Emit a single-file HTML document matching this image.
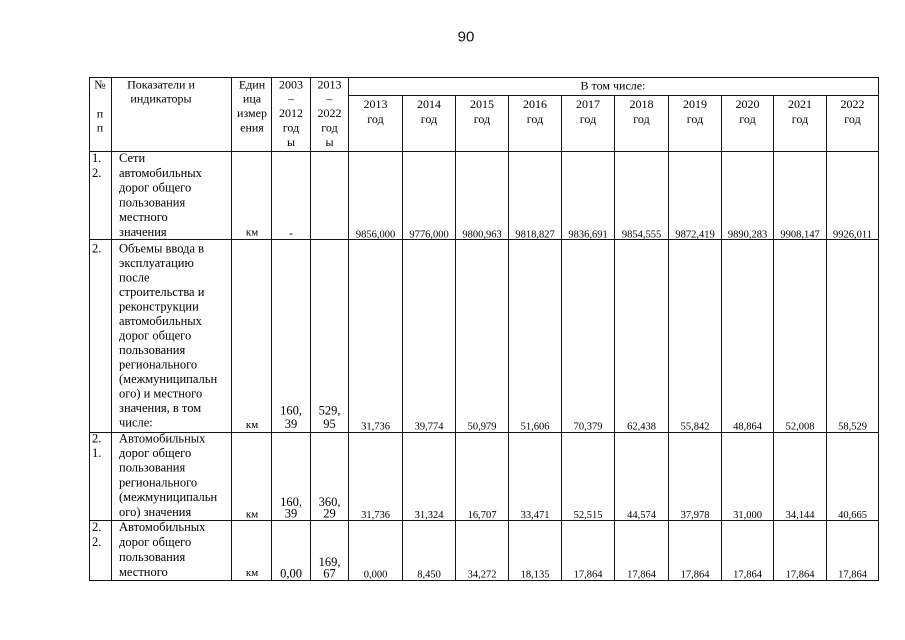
<!DOCTYPE html>
<html>
<head>
<meta charset="utf-8">
<style>
  html, body { margin:0; padding:0; background:#fff; }
  body { width:905px; height:640px; overflow:hidden; }
  svg { display:block; }
  .s { font-family:"Liberation Serif","DejaVu Serif",serif; fill:#000; }
  .h { font-size:12px; }
  .b { font-size:12.5px; }
  .n { font-size:10.5px; }
  .k { font-size:11px; }
  .m { font-size:12.5px; }
  .c { text-anchor:middle; }
</style>
</head>
<body>
<svg width="905" height="640" viewBox="0 0 905 640" xmlns="http://www.w3.org/2000/svg">
  <rect x="0" y="0" width="905" height="640" fill="#fff"/>
  <text x="466" y="41.5" text-anchor="middle" style="font-family:'Liberation Sans','DejaVu Sans',sans-serif;font-size:15px;fill:#111;">90</text>

  <g stroke="#151515" stroke-width="1" fill="none">
    <!-- horizontals -->
    <line x1="89" y1="77.5" x2="879" y2="77.5"/>
    <line x1="348.5" y1="95.5" x2="879" y2="95.5"/>
    <line x1="89" y1="151.5" x2="879" y2="151.5"/>
    <line x1="89" y1="239.5" x2="879" y2="239.5"/>
    <line x1="89" y1="432.5" x2="879" y2="432.5"/>
    <line x1="89" y1="520.5" x2="879" y2="520.5"/>
    <line x1="89" y1="580.5" x2="879" y2="580.5"/>
    <!-- verticals full height -->
    <line x1="89.5" y1="77" x2="89.5" y2="581"/>
    <line x1="111.5" y1="77" x2="111.5" y2="581"/>
    <line x1="231.5" y1="77" x2="231.5" y2="581"/>
    <line x1="271.5" y1="77" x2="271.5" y2="581"/>
    <line x1="310.5" y1="77" x2="310.5" y2="581"/>
    <line x1="348.5" y1="77" x2="348.5" y2="581"/>
    <line x1="878.5" y1="77" x2="878.5" y2="581"/>
    <!-- year column verticals -->
    <line x1="402.5" y1="95" x2="402.5" y2="581"/>
    <line x1="455.5" y1="95" x2="455.5" y2="581"/>
    <line x1="508.5" y1="95" x2="508.5" y2="581"/>
    <line x1="561.5" y1="95" x2="561.5" y2="581"/>
    <line x1="614.5" y1="95" x2="614.5" y2="581"/>
    <line x1="668.5" y1="95" x2="668.5" y2="581"/>
    <line x1="721.5" y1="95" x2="721.5" y2="581"/>
    <line x1="773.5" y1="95" x2="773.5" y2="581"/>
    <line x1="826.5" y1="95" x2="826.5" y2="581"/>
  </g>

  <!-- Header -->
  <g class="s h">
    <text x="100" y="88.5" class="c">№</text>
    <text x="100" y="117.5" class="c">п</text>
    <text x="100" y="131.5" class="c">п</text>

    <text x="161" y="88.5" class="c">Показатели и</text>
    <text x="161" y="102.5" class="c">индикаторы</text>

    <text x="252" y="88.5" class="c">Един</text>
    <text x="252" y="102.5" class="c">ица</text>
    <text x="252" y="117" class="c">измер</text>
    <text x="252" y="131.5" class="c">ения</text>

    <text x="291" y="88.5" class="c">2003</text>
    <text x="291" y="102.5" class="c">–</text>
    <text x="291" y="117" class="c">2012</text>
    <text x="291" y="131.5" class="c">год</text>
    <text x="291" y="146" class="c">ы</text>

    <text x="329.5" y="88.5" class="c">2013</text>
    <text x="329.5" y="102.5" class="c">–</text>
    <text x="329.5" y="117" class="c">2022</text>
    <text x="329.5" y="131.5" class="c">год</text>
    <text x="329.5" y="146" class="c">ы</text>

    <text x="613" y="89.5" class="c">В том числе:</text>

    <text x="375.5" y="108" class="c">2013</text><text x="375.5" y="123" class="c">год</text>
    <text x="429" y="108" class="c">2014</text><text x="429" y="123" class="c">год</text>
    <text x="482" y="108" class="c">2015</text><text x="482" y="123" class="c">год</text>
    <text x="535" y="108" class="c">2016</text><text x="535" y="123" class="c">год</text>
    <text x="588" y="108" class="c">2017</text><text x="588" y="123" class="c">год</text>
    <text x="641.5" y="108" class="c">2018</text><text x="641.5" y="123" class="c">год</text>
    <text x="695" y="108" class="c">2019</text><text x="695" y="123" class="c">год</text>
    <text x="747.5" y="108" class="c">2020</text><text x="747.5" y="123" class="c">год</text>
    <text x="800" y="108" class="c">2021</text><text x="800" y="123" class="c">год</text>
    <text x="852.5" y="108" class="c">2022</text><text x="852.5" y="123" class="c">год</text>
  </g>

  <!-- Row 1 -->
  <g class="s b">
    <text x="92" y="162">1.</text>
    <text x="92" y="176.8">2.</text>
    <text x="119" y="162">Сети</text>
    <text x="119" y="176.8">автомобильных</text>
    <text x="119" y="191.6">дорог общего</text>
    <text x="119" y="206.4">пользования</text>
    <text x="119" y="221.2">местного</text>
    <text x="119" y="236">значения</text>
  </g>
  <text x="252" y="235.5" class="s k c">км</text>
  <text x="291" y="237" class="s h c">-</text>
  <g class="s n c">
    <text x="375.5" y="237.5">9856,000</text>
    <text x="429" y="237.5">9776,000</text>
    <text x="482" y="237.5">9800,963</text>
    <text x="535" y="237.5">9818,827</text>
    <text x="588" y="237.5">9836,691</text>
    <text x="641.5" y="237.5">9854,555</text>
    <text x="695" y="237.5">9872,419</text>
    <text x="747.5" y="237.5">9890,283</text>
    <text x="800" y="237.5">9908,147</text>
    <text x="852.5" y="237.5">9926,011</text>
  </g>

  <!-- Row 2 -->
  <g class="s b">
    <text x="92" y="252.3">2.</text>
    <text x="119" y="252.3">Объемы ввода в</text>
    <text x="119" y="266.8">эксплуатацию</text>
    <text x="119" y="281.3">после</text>
    <text x="119" y="295.8">строительства и</text>
    <text x="119" y="310.3">реконструкции</text>
    <text x="119" y="324.8">автомобильных</text>
    <text x="119" y="339.3">дорог общего</text>
    <text x="119" y="353.8">пользования</text>
    <text x="119" y="368.3">регионального</text>
    <text x="119" y="382.8">(межмуниципальн</text>
    <text x="119" y="397.3">ого) и местного</text>
    <text x="119" y="411.8">значения, в том</text>
    <text x="119" y="426.3">числе:</text>
  </g>
  <text x="252" y="428" class="s k c">км</text>
  <g class="s m c">
    <text x="291" y="414.5">160,</text>
    <text x="291" y="427.8">39</text>
    <text x="329.5" y="414.5">529,</text>
    <text x="329.5" y="427.8">95</text>
  </g>
  <g class="s n c">
    <text x="375.5" y="429.5">31,736</text>
    <text x="429" y="429.5">39,774</text>
    <text x="482" y="429.5">50,979</text>
    <text x="535" y="429.5">51,606</text>
    <text x="588" y="429.5">70,379</text>
    <text x="641.5" y="429.5">62,438</text>
    <text x="695" y="429.5">55,842</text>
    <text x="747.5" y="429.5">48,864</text>
    <text x="800" y="429.5">52,008</text>
    <text x="852.5" y="429.5">58,529</text>
  </g>

  <!-- Row 3 -->
  <g class="s b">
    <text x="92" y="442.3">2.</text>
    <text x="92" y="457">1.</text>
    <text x="119" y="442.3">Автомобильных</text>
    <text x="119" y="457">дорог общего</text>
    <text x="119" y="471.7">пользования</text>
    <text x="119" y="486.4">регионального</text>
    <text x="119" y="501.1">(межмуниципальн</text>
    <text x="119" y="515.8">ого) значения</text>
  </g>
  <text x="252" y="517.5" class="s k c">км</text>
  <g class="s m c">
    <text x="291" y="506">160,</text>
    <text x="291" y="517.5">39</text>
    <text x="329.5" y="506">360,</text>
    <text x="329.5" y="517.5">29</text>
  </g>
  <g class="s n c">
    <text x="375.5" y="518">31,736</text>
    <text x="429" y="518">31,324</text>
    <text x="482" y="518">16,707</text>
    <text x="535" y="518">33,471</text>
    <text x="588" y="518">52,515</text>
    <text x="641.5" y="518">44,574</text>
    <text x="695" y="518">37,978</text>
    <text x="747.5" y="518">31,000</text>
    <text x="800" y="518">34,144</text>
    <text x="852.5" y="518">40,665</text>
  </g>

  <!-- Row 4 -->
  <g class="s b">
    <text x="92" y="531">2.</text>
    <text x="92" y="546">2.</text>
    <text x="119" y="531">Автомобильных</text>
    <text x="119" y="546">дорог общего</text>
    <text x="119" y="561">пользования</text>
    <text x="119" y="576">местного</text>
  </g>
  <text x="252" y="576" class="s k c">км</text>
  <g class="s m c">
    <text x="291" y="577.5">0,00</text>
    <text x="329.5" y="566">169,</text>
    <text x="329.5" y="577.5">67</text>
  </g>
  <g class="s n c">
    <text x="375.5" y="577.5">0,000</text>
    <text x="429" y="577.5">8,450</text>
    <text x="482" y="577.5">34,272</text>
    <text x="535" y="577.5">18,135</text>
    <text x="588" y="577.5">17,864</text>
    <text x="641.5" y="577.5">17,864</text>
    <text x="695" y="577.5">17,864</text>
    <text x="747.5" y="577.5">17,864</text>
    <text x="800" y="577.5">17,864</text>
    <text x="852.5" y="577.5">17,864</text>
  </g>
</svg>
</body>
</html>
